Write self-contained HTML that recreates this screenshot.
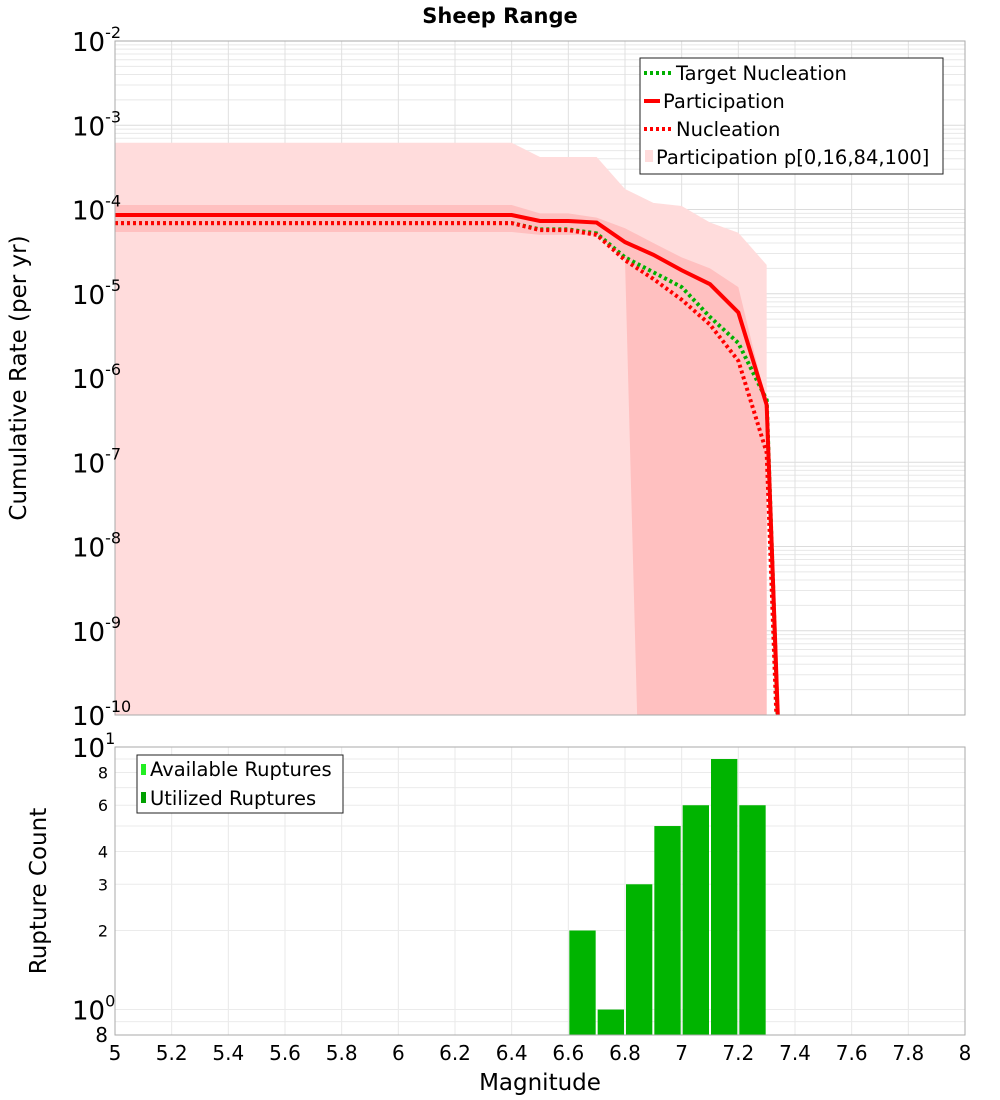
<!DOCTYPE html>
<html><head><meta charset="utf-8"><style>
html,body{margin:0;background:#fff;width:1000px;height:1100px;overflow:hidden;}
svg{display:block;font-family:"DejaVu Sans","Liberation Sans",sans-serif;}
</style></head><body>
<svg id="chart" width="1000" height="1100" viewBox="0 0 1000 1100" xmlns="http://www.w3.org/2000/svg">
<defs>
<clipPath id="clipTop"><rect x="115" y="41" width="850" height="674"/></clipPath>
<clipPath id="clipBot"><rect x="115" y="747" width="850" height="288"/></clipPath>
</defs>
<text x="500" y="23" text-anchor="middle" font-size="21" font-weight="bold">Sheep Range</text>
<g id="topGrid"></g>
<g id="botGrid"></g>
<g id="bands" clip-path="url(#clipTop)"></g>
<g id="lines" clip-path="url(#clipTop)"></g>
<g id="bars" clip-path="url(#clipBot)"></g>
<rect x="115" y="41" width="850" height="674" fill="none" stroke="#aaa" stroke-width="1"/>
<rect x="115" y="747" width="850" height="288" fill="none" stroke="#aaa" stroke-width="1"/>
<g id="topTicks" font-size="26"></g>
<g id="botTicks"></g>
<g id="xTicks" font-size="20"></g>
<text transform="translate(26,378) rotate(-90)" text-anchor="middle" font-size="23">Cumulative Rate (per yr)</text>
<text transform="translate(46,891) rotate(-90)" text-anchor="middle" font-size="23">Rupture Count</text>
<text x="540" y="1090" text-anchor="middle" font-size="23">Magnitude</text>
<g>
<rect x="640" y="58" width="303" height="116" fill="#fff" stroke="#222" stroke-width="1"/>
<line x1="644" y1="73" x2="672" y2="73" stroke="#00b000" stroke-width="4" stroke-dasharray="3,3"/>
<text x="676" y="80" font-size="19.5">Target Nucleation</text>
<line x1="644" y1="101" x2="660" y2="101" stroke="#f00" stroke-width="4"/>
<text x="663" y="108" font-size="19.5">Participation</text>
<line x1="644" y1="129" x2="672" y2="129" stroke="#f00" stroke-width="4" stroke-dasharray="3,3"/>
<text x="676" y="136" font-size="19.5">Nucleation</text>
<rect x="645" y="150" width="8" height="12" fill="#ffdcdc"/>
<text x="656" y="164" font-size="19.5">Participation p[0,16,84,100]</text>
</g>
<g>
<rect x="137" y="755" width="206" height="58" fill="#fff" stroke="#222" stroke-width="1"/>
<rect x="141" y="764" width="5" height="11" fill="#22ee22"/>
<text x="150" y="776" font-size="19.5">Available Ruptures</text>
<rect x="141" y="792" width="5" height="11" fill="#00a000"/>
<text x="150" y="805" font-size="19.5">Utilized Ruptures</text>
</g>
</svg>
<script>
const mags = [5.0,5.1,5.2,5.3,5.4,5.5,5.6,5.7,5.8,5.9,6.0,6.1,6.2,6.3,6.4,6.5,6.6,6.7,6.8,6.9,7.0,7.1,7.2,7.3,7.4];
const participation = [8.6e-5,8.6e-5,8.6e-5,8.6e-5,8.6e-5,8.6e-5,8.6e-5,8.6e-5,8.6e-5,8.6e-5,8.6e-5,8.6e-5,8.6e-5,8.6e-5,8.6e-5,7.3e-5,7.3e-5,7.0e-5,4.1e-5,2.9e-5,1.9e-5,1.3e-5,6e-6,4.8e-7,2e-16];
const nucleation = [6.9e-5,6.9e-5,6.9e-5,6.9e-5,6.9e-5,6.9e-5,6.9e-5,6.9e-5,6.9e-5,6.9e-5,6.9e-5,6.9e-5,6.9e-5,6.9e-5,6.9e-5,5.7e-5,5.7e-5,5.0e-5,2.5e-5,1.5e-5,8.5e-6,4.3e-6,1.6e-6,1.3e-7,1e-16];
const targetNucleation = [6.9e-5,6.9e-5,6.9e-5,6.9e-5,6.9e-5,6.9e-5,6.9e-5,6.9e-5,6.9e-5,6.9e-5,6.9e-5,6.9e-5,6.9e-5,6.9e-5,6.9e-5,5.8e-5,5.8e-5,5.2e-5,2.7e-5,1.8e-5,1.2e-5,5.3e-6,2.6e-6,5.5e-7,1e-16];
const bandMags = [5.0,5.1,5.2,5.3,5.4,5.5,5.6,5.7,5.8,5.9,6.0,6.1,6.2,6.3,6.4,6.5,6.6,6.7,6.8,6.9,7.0,7.1,7.2,7.3];
const pMax = [6.2e-4,6.2e-4,6.2e-4,6.2e-4,6.2e-4,6.2e-4,6.2e-4,6.2e-4,6.2e-4,6.2e-4,6.2e-4,6.2e-4,6.2e-4,6.2e-4,6.2e-4,4.2e-4,4.2e-4,4.2e-4,1.75e-4,1.2e-4,1.1e-4,7e-5,5.3e-5,2.2e-5];
const pMin = [1e-20,1e-20,1e-20,1e-20,1e-20,1e-20,1e-20,1e-20,1e-20,1e-20,1e-20,1e-20,1e-20,1e-20,1e-20,1e-20,1e-20,1e-20,1e-20,1e-20,1e-20,1e-20,1e-20,1e-20];
const p84 = [1.13e-4,1.13e-4,1.13e-4,1.13e-4,1.13e-4,1.13e-4,1.13e-4,1.13e-4,1.13e-4,1.13e-4,1.13e-4,1.13e-4,1.13e-4,1.13e-4,1.13e-4,9e-5,9e-5,8e-5,6e-5,4e-5,2.7e-5,2e-5,1.2e-5,5e-7];
const p16 = [5.4e-5,5.4e-5,5.4e-5,5.4e-5,5.4e-5,5.4e-5,5.4e-5,5.4e-5,5.4e-5,5.4e-5,5.4e-5,5.4e-5,5.4e-5,5.4e-5,5.4e-5,5e-5,5e-5,5e-5,2.5e-5,6e-18,1e-20,1e-20,1e-20,1e-20];
const barMags = [6.65,6.75,6.85,6.95,7.05,7.15,7.25];
const barCounts = [2,1,3,5,6,9,6];
const xTickLabels = ["5","5.2","5.4","5.6","5.8","6","6.2","6.4","6.6","6.8","7","7.2","7.4","7.6","7.8","8"];
const topExps = [-2,-3,-4,-5,-6,-7,-8,-9,-10];
const botMinorTicks = [8,6,4,3,2];

const NS="http://www.w3.org/2000/svg";
const X0=115,X1=965;
const xs=m=>X0+(m-5)/3*(X1-X0);
const yTop=v=>41+(-2-Math.log10(v))*(674/8);
const yBot=v=>1035-(Math.log10(v)-Math.log10(0.8))*(288/(1-Math.log10(0.8)));
function mk(tag,attrs,parent){const e=document.createElementNS(NS,tag);for(const k in attrs)e.setAttribute(k,attrs[k]);parent.appendChild(e);return e;}
const tg=document.getElementById('topGrid'),bg=document.getElementById('botGrid');
for(let d=-10;d<-2;d++){for(let k=1;k<10;k++){const y=yTop(k*Math.pow(10,d));
 const l=mk('line',{x1:X0,x2:X1,y1:y,y2:y,stroke:k==1?'#dcdcdc':'#e8e8e8','stroke-width':1},tg);
 
 }}
for(let i=1;i<15;i++){const x=xs(5+i*0.2);
 const l=mk('line',{x1:x,x2:x,y1:41,y2:715,stroke:'#e0e0e0','stroke-width':1},tg);
 
 
 const l2=mk('line',{x1:x,x2:x,y1:747,y2:1035,stroke:'#e8e8e8','stroke-width':1},bg);
 
 }
[0.9,1,2,3,4,5,6,7,8,9].forEach(v=>{const y=yBot(v);
 const l=mk('line',{x1:X0,x2:X1,y1:y,y2:y,stroke:'#ebebeb','stroke-width':1},bg);
 
 });
const bands=document.getElementById('bands');
function bandPath(up,lo){let p='';bandMags.forEach((m,i)=>{p+=(i?'L':'M')+xs(m)+','+yTop(up[i]);});
 for(let i=bandMags.length-1;i>=0;i--)p+='L'+xs(bandMags[i])+','+Math.min(yTop(lo[i]),2000);return p+'Z';}
const b1=mk('path',{d:bandPath(pMax,pMin),fill:'#ffdcdc'},bands);


const b2=mk('path',{d:bandPath(p84,p16),fill:'#ffc0c0'},bands);


const lines=document.getElementById('lines');
function linePath(vals){return mags.map((m,i)=>(i?'L':'M')+xs(m)+','+yTop(vals[i])).join('');}
const lt=mk('path',{d:linePath(targetNucleation),fill:'none',stroke:'#00b000','stroke-width':4,'stroke-dasharray':'3,3'},lines);


const lp=mk('path',{d:linePath(participation),fill:'none',stroke:'#ff0000','stroke-width':4},lines);


const ln=mk('path',{d:linePath(nucleation),fill:'none',stroke:'#ff0000','stroke-width':4,'stroke-dasharray':'3,3'},lines);


const bars=document.getElementById('bars');
const bw=(X1-X0)/30;
barMags.forEach((m,i)=>{const y=yBot(barCounts[i]);
 const r=mk('rect',{x:xs(m)-bw/2+1,y:y,width:bw-2,height:1035-y,fill:'#00b400'},bars);
 
 });
const tt=document.getElementById('topTicks');
topExps.forEach(e=>{const y=yTop(Math.pow(10,e));
 const t=mk('text',{x:72,y:y+10},tt);
 
 
 t.innerHTML='10<tspan dy="-13" font-size="16">'+e+'</tspan>';});
const bt=document.getElementById('botTicks');
[[10,'1'],[1,'0']].forEach(([v,e])=>{const y=yBot(v);
 const t=mk('text',{x:72,y:y+10,'font-size':26},bt);
 
 
 t.innerHTML='10<tspan dy="-13" font-size="16">'+e+'</tspan>';});
botMinorTicks.forEach(v=>{const y=yBot(v);
 const t=mk('text',{x:108,y:y+6,'font-size':16,'text-anchor':'end'},bt);
 
 
 t.textContent=String(v);});
const t8=mk('text',{x:108,y:1042,'font-size':20,'text-anchor':'end'},bt);


t8.textContent='8';
const xt=document.getElementById('xTicks');
xTickLabels.forEach(s=>{const t=mk('text',{x:xs(parseFloat(s)),y:1060,'text-anchor':'middle'},xt);
 
 
 t.textContent=s;});
</script>
</body></html>
